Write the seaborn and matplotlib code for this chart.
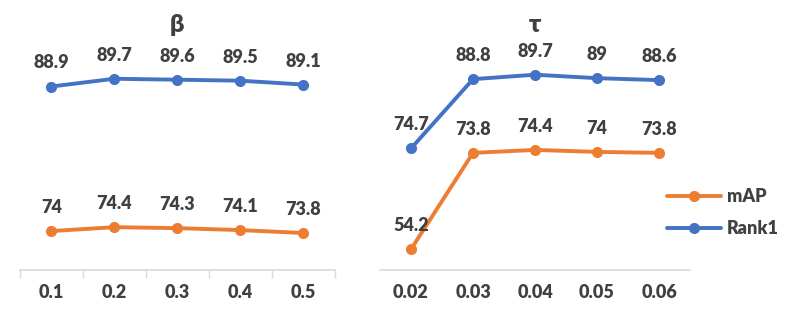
import numpy as np
import pandas as pd
import matplotlib
matplotlib.use("Agg")
import matplotlib.pyplot as plt
import seaborn as sns

# data
beta_ticks = ["0.1", "0.2", "0.3", "0.4", "0.5"]
beta_rank1 = [88.9, 89.7, 89.6, 89.5, 89.1]
beta_map = [74, 74.4, 74.3, 74.1, 73.8]

tau_ticks = ["0.02", "0.03", "0.04", "0.05", "0.06"]
tau_rank1 = [74.7, 88.8, 89.7, 89, 88.6]
tau_map = [54.2, 73.8, 74.4, 74, 73.8]

palette = {"mAP": "#ED7D31", "Rank1": "#4472C4"}
text_color = "#404040"
axis_color = "#D9D9D9"

sns.set_theme(style="white")
plt.rcParams["font.family"] = ["Lato", "DejaVu Sans"]


def to_frame(ticks, m, r):
    pos = np.arange(len(ticks))
    return pd.concat([
        pd.DataFrame({"pos": pos, "value": m, "metric": "mAP"}),
        pd.DataFrame({"pos": pos, "value": r, "metric": "Rank1"}),
    ])


def draw_panel(ax, ticks, m, r, title, ylim, boundary_ticks):
    df = to_frame(ticks, m, r)
    sns.lineplot(data=df, x="pos", y="value", hue="metric", palette=palette,
                 marker="o", markersize=8, markeredgewidth=0, linewidth=2.8,
                 ax=ax, legend=False)
    for _, row in df.iterrows():
        ax.annotate(f"{row['value']:g}", (row["pos"], row["value"]),
                    xytext=(0, 13), textcoords="offset points",
                    ha="center", va="baseline", fontsize=13,
                    fontweight="heavy", color=text_color)
    ax.set_xlim(-0.5, len(ticks) - 0.5)
    ax.set_ylim(*ylim)
    ax.set_xticks(np.arange(len(ticks)))
    ax.set_xticklabels(ticks, fontsize=13, fontweight="heavy", color=text_color)
    ax.set_yticks([])
    ax.set_xlabel("")
    ax.set_ylabel("")
    ax.tick_params(axis="x", which="major", length=0, pad=10)
    if boundary_ticks:
        ax.set_xticks(np.arange(len(ticks) + 1) - 0.5, minor=True)
        ax.tick_params(axis="x", which="minor", length=6, width=1,
                       color=axis_color, direction="out", bottom=True)
    for side in ["left", "right", "top"]:
        ax.spines[side].set_visible(False)
    ax.spines["bottom"].set_color(axis_color)
    ax.spines["bottom"].set_linewidth(1.2)
    ax.set_title(title, fontsize=18, fontweight="heavy", color=text_color, pad=12)


fig = plt.figure(figsize=(7.89, 3.16), dpi=100)
ax1 = fig.add_axes([0.0253, 0.146, 0.399, 0.70])
ax2 = fig.add_axes([0.4816, 0.146, 0.393, 0.70])

draw_panel(ax1, beta_ticks, beta_map, beta_rank1, "β", (70, 92.8), True)
draw_panel(ax2, tau_ticks, tau_map, tau_rank1, "τ", (50, 95), False)

handles = [plt.Line2D([], [], color=palette[k], marker="o", markersize=8,
                      markeredgewidth=0, linewidth=2.8) for k in ["mAP", "Rank1"]]
leg = fig.legend(handles, ["mAP", "Rank1"], loc="upper left",
                 bbox_to_anchor=(0.825, 0.455), frameon=False, handlelength=3.0,
                 labelspacing=0.8, handletextpad=0.3,
                 prop={"size": 13, "weight": "heavy"})
for t in leg.get_texts():
    t.set_color(text_color)

fig.savefig("out.png", dpi=100)
